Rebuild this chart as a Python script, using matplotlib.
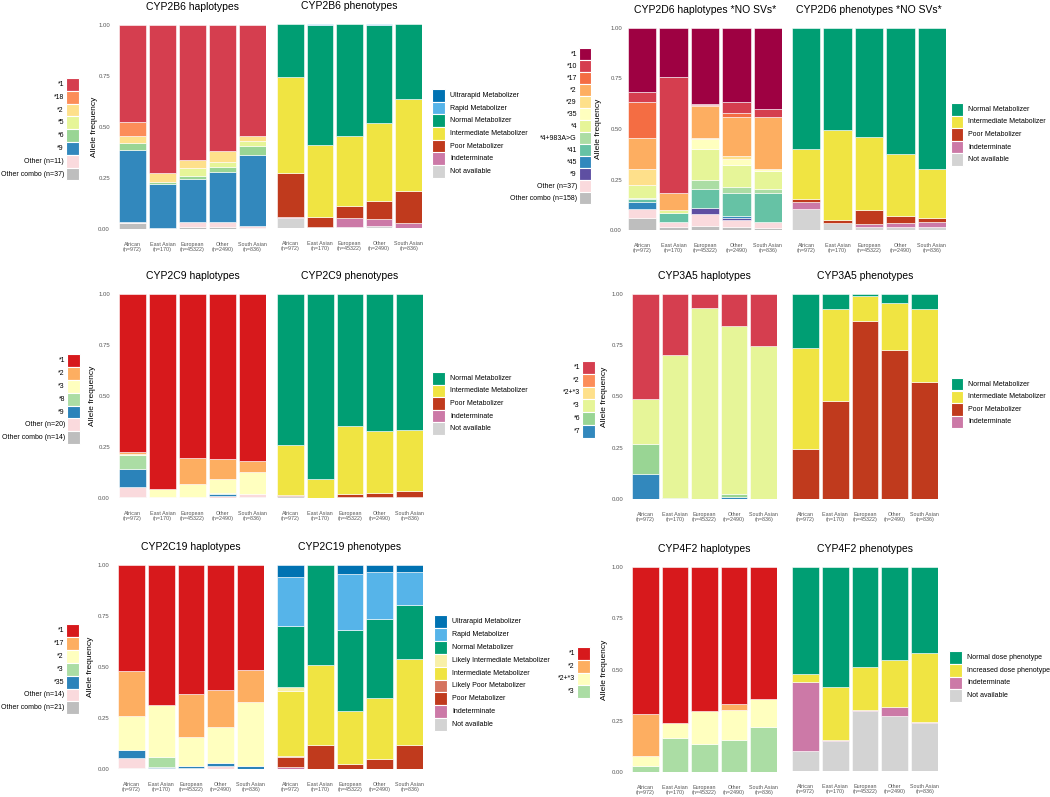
import matplotlib
matplotlib.use('Agg')
import matplotlib.pyplot as plt
from matplotlib.patches import Rectangle
import numpy as np

plt.rcParams['font.family'] = ['Liberation Sans', 'DejaVu Sans']

W, H = 1050, 797

pops = ['African\n(n=972)', 'East Asian\n(n=170)', 'European\n(n=45322)',
        'Other\n(n=2490)', 'South Asian\n(n=836)']

# phenotype colours
pheno_col = {
    'Ultrarapid Metabolizer': '#0072B2',
    'Rapid Metabolizer': '#56B4E9',
    'Normal Metabolizer': '#009E73',
    'Likely Intermediate Metabolizer': '#F8F0A8',
    'Intermediate Metabolizer': '#F0E442',
    'Likely Poor Metabolizer': '#D5735E',
    'Poor Metabolizer': '#C03A1D',
    'Indeterminate': '#CC79A7',
    'Not available': '#D3D3D3',
    'Normal dose phenotype': '#009E73',
    'Increased dose phenotype': '#F0E442',
}
other_col = '#FADADD'
combo_col = '#BEBEBE'

# ---------------- data (segment values, legend order = top to bottom) ----------
cyp2b6_hap = {
    '*1': [0.475, 0.727, 0.663, 0.616, 0.544],
    '*18': [0.069, 0, 0, 0, 0],
    '*2': [0.036, 0.044, 0.037, 0.054, 0.026],
    '*5': [0, 0, 0.039, 0.025, 0.023],
    '*6': [0.033, 0.01, 0.018, 0.026, 0.043],
    '*9': [0.352, 0.214, 0.21, 0.246, 0.348],
    'Other (n=11)': [0.005, 0.002, 0.023, 0.023, 0.011],
    'Other combo (n=37)': [0.03, 0.003, 0.01, 0.01, 0.005],
}
cyp2b6_hap_col = ['#D53E4F', '#FC8D59', '#FEE08B', '#E6F598', '#99D594', '#3288BD', other_col, combo_col]

cyp2b6_phe = {
    'Ultrarapid Metabolizer': [0, 0, 0, 0, 0],
    'Rapid Metabolizer': [0, 0.007, 0, 0.003, 0],
    'Normal Metabolizer': [0.26, 0.588, 0.547, 0.482, 0.366],
    'Intermediate Metabolizer': [0.47, 0.353, 0.345, 0.385, 0.451],
    'Poor Metabolizer': [0.214, 0.047, 0.058, 0.084, 0.157],
    'Indeterminate': [0.009, 0.005, 0.045, 0.038, 0.026],
    'Not available': [0.047, 0, 0.005, 0.008, 0],
}

cyp2d6_hap = {
    '*1': [0.317, 0.241, 0.376, 0.366, 0.403],
    '*10': [0.048, 0.574, 0.003, 0.056, 0.036],
    '*17': [0.181, 0, 0.005, 0.019, 0],
    '*2': [0.152, 0.088, 0.159, 0.194, 0.261],
    '*29': [0.081, 0, 0.005, 0.012, 0],
    '*35': [0, 0, 0.049, 0.03, 0.006],
    '*4': [0.063, 0.014, 0.155, 0.112, 0.093],
    '*4+983A>G': [0.007, 0, 0.043, 0.026, 0.019],
    '*41': [0.012, 0.043, 0.094, 0.116, 0.141],
    '*45': [0.035, 0, 0, 0.008, 0],
    '*9': [0, 0, 0.033, 0.011, 0],
    'Other (n=37)': [0.043, 0.023, 0.058, 0.033, 0.029],
    'Other combo (n=158)': [0.061, 0.017, 0.02, 0.017, 0.012],
}
cyp2d6_hap_col = ['#9E0142', '#D53E4F', '#F46D43', '#FDAE61', '#FEE08B', '#FFFFBF',
                  '#E6F598', '#ABDDA4', '#66C2A5', '#3288BD', '#5E4FA2', other_col, combo_col]

cyp2d6_phe = {
    'Normal Metabolizer': [0.601, 0.506, 0.539, 0.624, 0.70],
    'Intermediate Metabolizer': [0.246, 0.445, 0.364, 0.307, 0.242],
    'Poor Metabolizer': [0.013, 0.013, 0.066, 0.034, 0.017],
    'Indeterminate': [0.036, 0, 0.015, 0.019, 0.028],
    'Not available': [0.104, 0.036, 0.016, 0.016, 0.013],
}

cyp2c9_hap = {
    '*1': [0.775, 0.954, 0.802, 0.809, 0.817],
    '*2': [0.01, 0, 0.128, 0.098, 0.054],
    '*3': [0.006, 0.041, 0.063, 0.068, 0.109],
    '*8': [0.067, 0, 0, 0.005, 0],
    '*9': [0.09, 0, 0, 0.01, 0],
    'Other (n=20)': [0.047, 0.003, 0.007, 0.01, 0.017],
    'Other combo (n=14)': [0.005, 0.002, 0, 0, 0.003],
}
cyp2c9_hap_col = ['#D7191C', '#FDAE61', '#FFFFBF', '#ABDDA4', '#2B83BA', other_col, combo_col]

cyp2c9_phe = {
    'Normal Metabolizer': [0.74, 0.908, 0.645, 0.67, 0.668],
    'Intermediate Metabolizer': [0.246, 0.092, 0.334, 0.305, 0.298],
    'Poor Metabolizer': [0.003, 0, 0.018, 0.02, 0.031],
    'Indeterminate': [0.003, 0, 0.003, 0.003, 0.003],
    'Not available': [0.008, 0, 0, 0.002, 0],
}

cyp3a5_hap = {
    '*1': [0.511, 0.298, 0.068, 0.158, 0.252],
    '*2': [0, 0, 0, 0, 0],
    '*2+*3': [0, 0, 0, 0, 0],
    '*3': [0.222, 0.699, 0.932, 0.816, 0.748],
    '*6': [0.147, 0, 0, 0.015, 0],
    '*7': [0.12, 0.003, 0, 0.011, 0],
}
cyp3a5_hap_col = ['#D53E4F', '#FC8D59', '#FEE08B', '#E6F598', '#99D594', '#3288BD']

cyp3a5_phe = {
    'Normal Metabolizer': [0.265, 0.072, 0.008, 0.046, 0.073],
    'Intermediate Metabolizer': [0.489, 0.451, 0.124, 0.228, 0.357],
    'Poor Metabolizer': [0.246, 0.477, 0.868, 0.726, 0.57],
    'Indeterminate': [0, 0, 0, 0, 0],
}

cyp2c19_hap = {
    '*1': [0.518, 0.684, 0.63, 0.614, 0.515],
    '*17': [0.22, 0, 0.214, 0.182, 0.159],
    '*2': [0.168, 0.257, 0.14, 0.175, 0.31],
    '*3': [0, 0.051, 0, 0, 0],
    '*35': [0.042, 0.005, 0.01, 0.016, 0.014],
    'Other (n=14)': [0.045, 0, 0.006, 0.013, 0.002],
    'Other combo (n=21)': [0.007, 0.003, 0, 0, 0],
}
cyp2c19_hap_col = ['#D7191C', '#FDAE61', '#FFFFBF', '#ABDDA4', '#2B83BA', other_col, combo_col]

cyp2c19_phe = {
    'Ultrarapid Metabolizer': [0.06, 0, 0.044, 0.033, 0.034],
    'Rapid Metabolizer': [0.237, 0, 0.273, 0.23, 0.162],
    'Normal Metabolizer': [0.299, 0.49, 0.397, 0.389, 0.266],
    'Likely Intermediate Metabolizer': [0.023, 0, 0, 0, 0],
    'Intermediate Metabolizer': [0.316, 0.392, 0.261, 0.299, 0.422],
    'Likely Poor Metabolizer': [0.006, 0, 0, 0, 0],
    'Poor Metabolizer': [0.051, 0.118, 0.025, 0.047, 0.116],
    'Indeterminate': [0.008, 0, 0, 0.002, 0],
    'Not available': [0, 0, 0, 0, 0],
}

cyp4f2_hap = {
    '*1': [0.719, 0.759, 0.70, 0.67, 0.644],
    '*2': [0.201, 0, 0, 0.028, 0],
    '*2+*3': [0.051, 0.076, 0.163, 0.147, 0.136],
    '*3': [0.029, 0.165, 0.137, 0.155, 0.22],
}
cyp4f2_hap_col = ['#D7191C', '#FDAE61', '#FFFFBF', '#ABDDA4']

cyp4f2_phe = {
    'Normal dose phenotype': [0.523, 0.588, 0.49, 0.456, 0.42],
    'Increased dose phenotype': [0.039, 0.26, 0.211, 0.23, 0.34],
    'Indeterminate': [0.338, 0.005, 0.003, 0.043, 0.006],
    'Not available': [0.1, 0.147, 0.296, 0.271, 0.234],
}

fig = plt.figure(figsize=(W / 100, H / 100), dpi=100)


def fx(x):
    return x / W


def fy(y):
    return 1 - y / H


def panel(box, data, colors, title, hap, ytick_gap=9, ylab_x=None):
    x0, y0, x1, y1 = box
    ax = fig.add_axes([fx(x0), fy(y1), (x1 - x0) / W, (y1 - y0) / H])
    x = np.arange(len(pops))
    bottom = np.zeros(len(pops))
    labels = list(data.keys())
    # last legend entry sits at the bottom of the stack
    for lab, col in zip(labels[::-1], colors[::-1]):
        v = np.array(data[lab], dtype=float)
        m = v > 0
        ax.bar(x[m], v[m], 0.9, bottom=bottom[m], color=col,
               edgecolor='white', linewidth=0.4)
        bottom += v
    ax.set_xlim(-0.45, 4.45)
    ax.set_ylim(0, 1)
    for s in ax.spines.values():
        s.set_visible(False)
    ax.set_xticks(x)
    ax.set_xticklabels(pops, fontsize=3.9, color='#555555', linespacing=1.05)
    ax.tick_params(axis='x', length=0, pad=9.5)
    if hap:
        ax.set_yticks([0, 0.25, 0.5, 0.75, 1])
        ax.set_yticklabels(['0.00', '0.25', '0.50', '0.75', '1.00'], fontsize=4.3, color='#555555')
        ax.tick_params(axis='y', length=0, pad=ytick_gap * 0.72)
        fig.text(fx(ylab_x), fy((y0 + y1) / 2), 'Allele frequency', rotation=90,
                 ha='center', va='center', fontsize=6)
    else:
        ax.set_yticks([])
    fig.text(fx((x0 + x1) / 2), fy(y0 - 18), title, ha='center', va='center', fontsize=7.5)
    return ax


def legend(x0, y0, step, labels, colors, left, sw=13):
    for i, (lab, col) in enumerate(zip(labels, colors)):
        y = y0 + i * step
        fig.patches.append(Rectangle((fx(x0), fy(y + step)), sw / W, step / H,
                                     transform=fig.transFigure, facecolor=col,
                                     edgecolor='white', linewidth=0.8))
        if left:
            fig.text(fx(x0 - 2), fy(y + step / 2), lab, ha='right', va='center', fontsize=5)
        else:
            fig.text(fx(x0 + sw + 5), fy(y + step / 2), lab, ha='left', va='center', fontsize=5)


def pcols(d):
    return [pheno_col[k] for k in d]


# row 1
panel((119, 25, 266, 229), cyp2b6_hap, cyp2b6_hap_col, 'CYP2B6 haplotypes', True, 9, 94)
legend(66, 78, 12.8, list(cyp2b6_hap), cyp2b6_hap_col, True)
panel((277, 24, 422, 228), cyp2b6_phe, pcols(cyp2b6_phe), 'CYP2B6 phenotypes', False)
legend(432, 89, 12.7, list(cyp2b6_phe), pcols(cyp2b6_phe), False)

panel((628, 28, 782, 230), cyp2d6_hap, cyp2d6_hap_col, 'CYP2D6 haplotypes *NO SVs*', True, 6, 599)
legend(579, 48, 12.0, list(cyp2d6_hap), cyp2d6_hap_col, True, sw=12)
panel((792, 28, 946, 230), cyp2d6_phe, pcols(cyp2d6_phe), 'CYP2D6 phenotypes *NO SVs*', False)
legend(951, 103, 12.6, list(cyp2d6_phe), pcols(cyp2d6_phe), False, sw=12)

# row 2
panel((119, 294, 266, 498), cyp2c9_hap, cyp2c9_hap_col, 'CYP2C9 haplotypes', True, 9, 93)
legend(67, 354, 12.9, list(cyp2c9_hap), cyp2c9_hap_col, True)
panel((277, 294, 423, 498), cyp2c9_phe, pcols(cyp2c9_phe), 'CYP2C9 phenotypes', False)
legend(432, 372, 12.6, list(cyp2c9_phe), pcols(cyp2c9_phe), False)

panel((632, 294, 777, 499), cyp3a5_hap, cyp3a5_hap_col, 'CYP3A5 haplotypes', True, 9, 605)
legend(582, 361, 12.8, list(cyp3a5_hap), cyp3a5_hap_col, True)
panel((792, 294, 938, 499), cyp3a5_phe, pcols(cyp3a5_phe), 'CYP3A5 phenotypes', False)
legend(951, 378, 12.5, list(cyp3a5_phe), pcols(cyp3a5_phe), False, sw=12)

# row 3
panel((118, 565, 264, 769), cyp2c19_hap, cyp2c19_hap_col, 'CYP2C19 haplotypes', True, 9, 91)
legend(66, 624, 12.9, list(cyp2c19_hap), cyp2c19_hap_col, True)
panel((277, 565, 423, 769), cyp2c19_phe, pcols(cyp2c19_phe), 'CYP2C19 phenotypes', False)
legend(434, 615, 12.9, list(cyp2c19_phe), pcols(cyp2c19_phe), False)

panel((632, 567, 777, 772), cyp4f2_hap, cyp4f2_hap_col, 'CYP4F2 haplotypes', True, 9, 605)
legend(577, 647, 12.75, list(cyp4f2_hap), cyp4f2_hap_col, True)
panel((792, 567, 938, 771), cyp4f2_phe, pcols(cyp4f2_phe), 'CYP4F2 phenotypes', False)
legend(949, 651, 12.75, list(cyp4f2_phe), pcols(cyp4f2_phe), False)

fig.savefig('out.png', dpi=100)
